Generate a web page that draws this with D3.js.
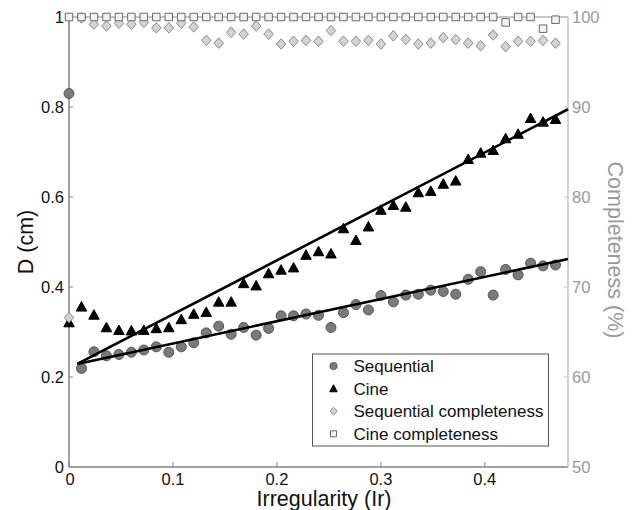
<!DOCTYPE html>
<html>
<head>
<meta charset="utf-8">
<script src="https://cdn.jsdelivr.net/npm/d3@7"></script>
<style>
  body { margin: 0; background: #fff; }
  text { font-family: "Liberation Sans", Arial, sans-serif; }
</style>
</head>
<body>
<script>

  // irregularity (x) and the four measured series
  var irregularity = [0, 0.012, 0.024, 0.036, 0.048, 0.06, 0.072, 0.084, 0.096, 0.108,
    0.12, 0.132, 0.144, 0.156, 0.168, 0.18, 0.192, 0.204, 0.216, 0.228,
    0.24, 0.252, 0.264, 0.276, 0.288, 0.3, 0.312, 0.324, 0.336, 0.348,
    0.36, 0.372, 0.384, 0.396, 0.408, 0.42, 0.432, 0.444, 0.456, 0.468];

  var sequential = [0.83, 0.219, 0.256, 0.247, 0.250, 0.255, 0.260, 0.267, 0.255, 0.267,
    0.276, 0.298, 0.313, 0.295, 0.310, 0.293, 0.308, 0.336, 0.336, 0.340,
    0.337, 0.310, 0.343, 0.361, 0.349, 0.381, 0.367, 0.382, 0.384, 0.393,
    0.390, 0.384, 0.417, 0.434, 0.382, 0.439, 0.427, 0.453, 0.447, 0.449];

  var cine = [0.321, 0.356, 0.338, 0.310, 0.304, 0.303, 0.304, 0.308, 0.310, 0.328,
    0.340, 0.344, 0.367, 0.367, 0.408, 0.403, 0.430, 0.438, 0.443, 0.471,
    0.479, 0.474, 0.530, 0.504, 0.534, 0.571, 0.582, 0.578, 0.610, 0.613,
    0.629, 0.636, 0.684, 0.698, 0.704, 0.730, 0.740, 0.775, 0.767, 0.773];

  var seqCompleteness = [66.6, 99.9, 99.2, 99.0, 99.3, 99.2, 99.4, 98.8, 98.8, 99.3,
    98.9, 97.4, 97.1, 98.3, 98.1, 99.0, 98.1, 97.0, 97.3, 97.4,
    97.3, 98.5, 97.3, 97.3, 97.4, 97.0, 97.9, 97.5, 97.0, 97.1,
    97.7, 97.5, 97.1, 96.8, 98.0, 96.7, 97.3, 97.3, 97.4, 97.1];

  var cineCompleteness = [100, 100, 100, 100, 100, 100, 100, 100, 100, 100,
    100, 100, 100, 100, 100, 100, 100, 100, 100, 100,
    100, 100, 100, 100, 100, 100, 100, 100, 100, 100,
    100, 100, 100, 100, 100, 99.4, 100, 100, 98.7, 99.7];

  // linear fits (end points)
  var fitX = [0.008, 0.48];
  var seqFit = [0.229, 0.462];
  var cineFit = [0.229, 0.795];

  var xTicks = [0, 0.1, 0.2, 0.3, 0.4];
  var yTicks = [0, 0.2, 0.4, 0.6, 0.8, 1];
  var y2Ticks = [50, 60, 70, 80, 90, 100];
  var legendLabels = ["Sequential", "Cine", "Sequential completeness", "Cine completeness"];

  var width = 633, height = 510;
  var margin = {top: 17, right: 65, bottom: 43, left: 69};

  var x = d3.scaleLinear().domain([0, 0.48]).range([margin.left, width - margin.right]);
  var y = d3.scaleLinear().domain([0, 1]).range([height - margin.bottom, margin.top]);
  var y2 = d3.scaleLinear().domain([50, 100]).range([height - margin.bottom, margin.top]);

  var svg = d3.select("body").append("svg")
    .attr("width", width)
    .attr("height", height);

  // marker shapes
  function circle(r) { return d3.symbol(d3.symbolCircle, Math.PI * r * r)(); }
  function triangle(w, h) {
    return `M0,${-h * 0.55}L${w / 2},${h * 0.45}L${-w / 2},${h * 0.45}Z`;
  }
  function diamond(w, h) {
    return `M0,${-h / 2}L${w / 2},0L0,${h / 2}L${-w / 2},0Z`;
  }
  function square(s) {
    return `M${-s / 2},${-s / 2}h${s}v${s}h${-s}Z`;
  }

  var styles = [
    {path: circle(5), fill: "#7a7a7a", stroke: "#555", lpath: circle(3.6)},
    {path: triangle(10.5, 9.5), fill: "#000", stroke: "#000", lpath: triangle(7.5, 7)},
    {path: diamond(9.5, 10.5), fill: "#d6d3cc", stroke: "#8a8a8a", lpath: diamond(7, 8)},
    {path: square(7.5), fill: "#f2f2f2", stroke: "#6a6a6a", lpath: square(6)}
  ];

  // axes box
  var axisG = svg.append("g");
  axisG.append("line")
    .attr("x1", x(0)).attr("x2", x(0.48))
    .attr("y1", y(1)).attr("y2", y(1))
    .attr("stroke", "#8c8c8c");
  axisG.append("line")
    .attr("x1", x(0)).attr("x2", x(0.48))
    .attr("y1", y(0)).attr("y2", y(0))
    .attr("stroke", "#808080").attr("stroke-width", 1.5);
  axisG.append("line")
    .attr("x1", x(0)).attr("x2", x(0))
    .attr("y1", y(0)).attr("y2", y(1))
    .attr("stroke", "#808080").attr("stroke-width", 1.5);
  axisG.append("line")
    .attr("x1", x(0.48)).attr("x2", x(0.48))
    .attr("y1", y(0)).attr("y2", y(1))
    .attr("stroke", "#c4c4c4").attr("stroke-width", 1.5);

  // x ticks (inward)
  axisG.selectAll(".xt").data(xTicks).enter().append("line")
    .attr("x1", d => x(d)).attr("x2", d => x(d))
    .attr("y1", y(0)).attr("y2", y(0) - 5)
    .attr("stroke", "#808080");
  axisG.selectAll(".xl").data(xTicks).enter().append("text")
    .attr("x", d => x(d) + (d === 0 ? 1 : 0)).attr("y", y(0) + 18)
    .attr("text-anchor", "middle")
    .attr("font-size", 16.5)
    .attr("fill", "#111")
    .text(d => d);

  // left ticks
  axisG.selectAll(".yt").data(yTicks.slice(1, -1)).enter().append("line")
    .attr("x1", x(0)).attr("x2", x(0) + 4)
    .attr("y1", d => y(d)).attr("y2", d => y(d))
    .attr("stroke", "#808080");
  axisG.selectAll(".yl").data(yTicks).enter().append("text")
    .attr("x", x(0) - 5).attr("y", d => y(d) + 5.5)
    .attr("text-anchor", "end")
    .attr("font-size", 16.5)
    .attr("fill", "#111")
    .text(d => d);

  // right ticks
  axisG.selectAll(".y2t").data(y2Ticks.slice(1, -1)).enter().append("line")
    .attr("x1", x(0.48)).attr("x2", x(0.48) - 4)
    .attr("y1", d => y2(d)).attr("y2", d => y2(d))
    .attr("stroke", "#c4c4c4");
  axisG.selectAll(".y2l").data(y2Ticks).enter().append("text")
    .attr("x", x(0.48) + 4).attr("y", d => y2(d) + 5.5)
    .attr("text-anchor", "start")
    .attr("font-size", 16.5)
    .attr("fill", "#999")
    .text(d => d);

  // axis titles
  svg.append("text")
    .attr("x", 324).attr("y", 506)
    .attr("text-anchor", "middle")
    .attr("font-size", 21.5)
    .attr("fill", "#111")
    .text("Irregularity (Ir)");
  svg.append("text")
    .attr("transform", `translate(33,${(y(0) + y(1)) / 2}) rotate(-90)`)
    .attr("text-anchor", "middle")
    .attr("font-size", 21.5)
    .attr("fill", "#111")
    .text("D (cm)");
  svg.append("text")
    .attr("transform", `translate(608,${(y(0) + y(1)) / 2 + 8}) rotate(90)`)
    .attr("text-anchor", "middle")
    .attr("font-size", 21.5)
    .attr("fill", "#999")
    .text("Completeness (%)");

  // data markers
  function drawSeries(values, scale, st) {
    svg.append("g").selectAll("path")
      .data(values).enter().append("path")
      .attr("transform", (d, i) => `translate(${x(irregularity[i])},${scale(d)})`)
      .attr("d", st.path)
      .attr("fill", st.fill)
      .attr("stroke", st.stroke)
      .attr("stroke-width", 1);
  }
  drawSeries(sequential, y, styles[0]);
  drawSeries(cine, y, styles[1]);

  // fit lines
  var line = d3.line().x(d => x(d[0])).y(d => y(d[1]));
  [seqFit, cineFit].forEach(f => {
    svg.append("path")
      .attr("d", line(fitX.map((v, i) => [v, f[i]])))
      .attr("fill", "none")
      .attr("stroke", "#000")
      .attr("stroke-width", 2.6);
  });

  drawSeries(seqCompleteness, y2, styles[2]);
  drawSeries(cineCompleteness, y2, styles[3]);

  // legend
  var lg = svg.append("g").attr("transform", "translate(312.5,354)");
  lg.append("rect")
    .attr("width", 236).attr("height", 92)
    .attr("fill", "#fff")
    .attr("stroke", "#555");
  var rows = lg.selectAll(".row").data(legendLabels).enter().append("g")
    .attr("transform", (d, i) => `translate(0,${12 + i * 22.6})`);
  rows.append("path")
    .attr("transform", "translate(21,0)")
    .attr("d", (d, i) => styles[i].lpath)
    .attr("fill", (d, i) => styles[i].fill)
    .attr("stroke", (d, i) => styles[i].stroke);
  rows.append("text")
    .attr("x", 41).attr("y", 6)
    .attr("font-size", 17)
    .attr("fill", "#111")
    .text(d => d);

</script>
</body>
</html>
